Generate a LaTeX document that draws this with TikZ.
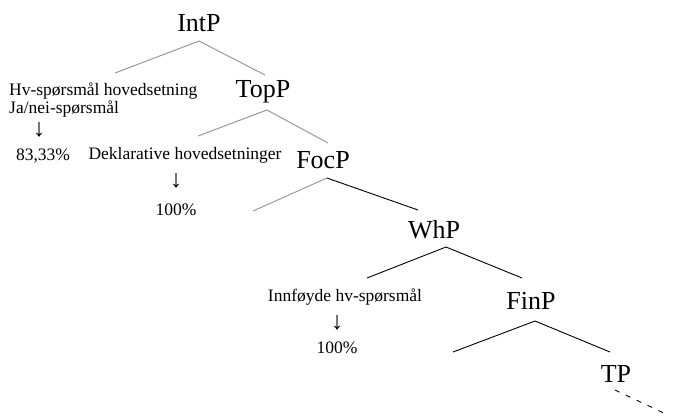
\documentclass[tikz,border=0pt]{standalone}
\usepackage{fontspec}
\setmainfont{Liberation Serif}
\begin{document}
\begin{tikzpicture}[x=1pt,y=-1pt,
  cat/.style={inner sep=0pt,font=\fontsize{26}{28}\selectfont},
  lab/.style={inner sep=0pt,font=\fontsize{17.5}{19}\selectfont},
  arr/.style={inner sep=0pt,font=\fontsize{25}{26}\selectfont},
  gbr/.style={draw=black!40,line width=1pt},
  bbr/.style={draw=black,line width=0.9pt}]
\useasboundingbox (0,0) rectangle (673,416);
\node[cat] (intp) at (199,23) {IntP};
\node[cat] (topp) at (263,92) {TopP};
\node[cat] (focp) at (323,160) {FocP};
\node[cat] (whp) at (434,230) {WhP};
\node[cat] (finp) at (531,301) {FinP};
\node[cat] (tp) at (616,374) {TP};
\coordinate (intpA) at (199,41);
\coordinate (intpL) at (115,73);
\coordinate (intpR) at (265,75);
\coordinate (toppA) at (267,110);
\coordinate (toppL) at (198,136);
\coordinate (toppR) at (328,143);
\coordinate (focpA) at (327,178);
\coordinate (focpL) at (253,211);
\coordinate (focpR) at (418,210);
\coordinate (whpA) at (446,247);
\coordinate (whpL) at (367,278);
\coordinate (whpR) at (522,278);
\coordinate (finpA) at (535,321);
\coordinate (finpL) at (453,352);
\coordinate (finpR) at (610,352);
\coordinate (tpA) at (615,390);
\coordinate (tpE) at (668,415);
\draw[gbr] (intpL) -- (intpA) -- (intpR);
\draw[gbr] (toppL) -- (toppA) -- (toppR);
\draw[gbr] (focpL) -- (focpA);
\draw[bbr] (focpA) -- (focpR);
\draw[bbr] (whpL) -- (whpA) -- (whpR);
\draw[bbr] (finpL) -- (finpA) -- (finpR);
\draw[bbr,dash pattern=on 5pt off 7pt] (tpA) -- (tpE);
\node[lab,anchor=west] (hv) at (9,91) {Hv-spørsmål hovedsetning};
\node[lab,anchor=west] (ja) at (9,109) {Ja/nei-spørsmål};
\node[arr] (arr1) at (39,130) {↓};
\node[lab] (p1) at (43,156) {83,33\%};
\node[lab] (dek) at (185,155) {Deklarative hovedsetninger};
\node[arr] (arr2) at (176,181) {↓};
\node[lab] (p2) at (176,210) {100\%};
\node[lab] (inn) at (345,297) {Innføyde hv-spørsmål};
\node[arr] (arr3) at (337,323) {↓};
\node[lab] (p3) at (337,348) {100\%};
\end{tikzpicture}
\end{document}
